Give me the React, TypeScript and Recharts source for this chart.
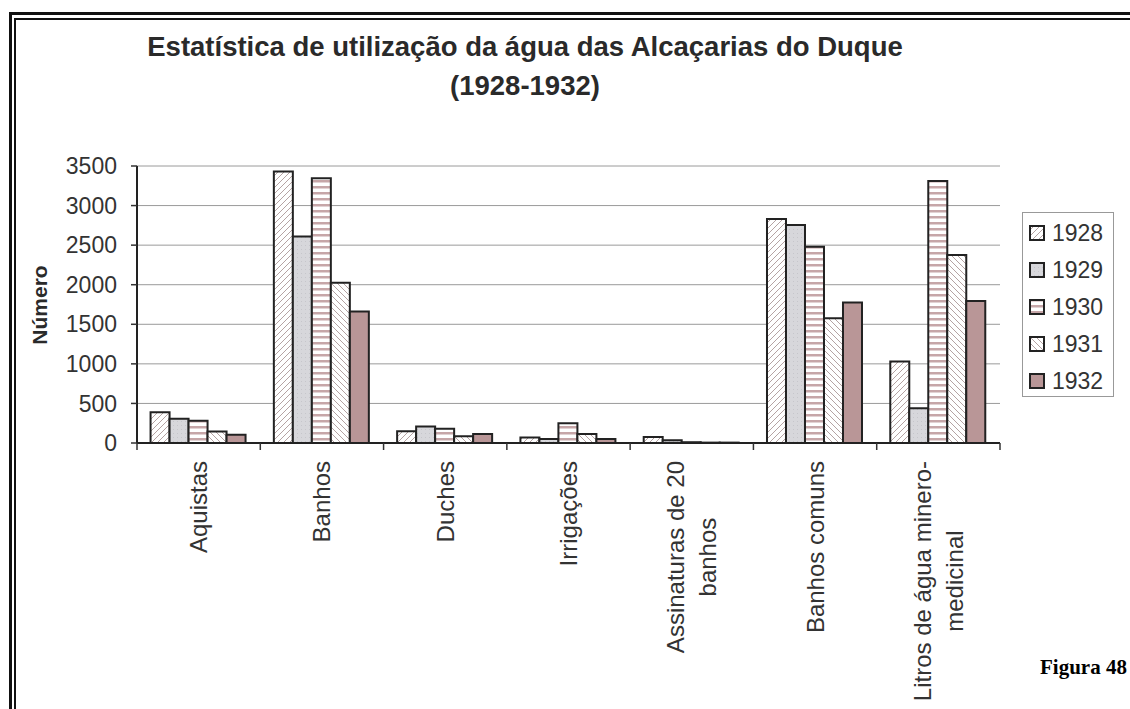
import { Bar, BarChart, CartesianGrid, XAxis, YAxis } from 'recharts'

const categories = [
  'Aquistas',
  'Banhos',
  'Duches',
  'Irrigações',
  'Assinaturas de 20 banhos',
  'Banhos comuns',
  'Litros de água minero-medicinal',
]
const tickLines = [
  ['Aquistas'],
  ['Banhos'],
  ['Duches'],
  ['Irrigações'],
  ['Assinaturas de 20', 'banhos'],
  ['Banhos comuns'],
  ['Litros de água minero-', 'medicinal'],
]
const years = ['1928', '1929', '1930', '1931', '1932']
const v1928 = [390, 3430, 150, 70, 75, 2830, 1030]
const v1929 = [305, 2610, 210, 50, 35, 2755, 440]
const v1930 = [280, 3345, 180, 250, 10, 2480, 3310]
const v1931 = [145, 2025, 85, 115, 5, 1575, 2375]
const v1932 = [105, 1660, 115, 50, 5, 1775, 1795]
const yTicks = [0, 500, 1000, 1500, 2000, 2500, 3000, 3500]

const seriesValues = [v1928, v1929, v1930, v1931, v1932]
const data = categories.map((name, i) => {
  const row: Record<string, string | number> = { name }
  years.forEach((y, s) => (row[y] = seriesValues[s][i]))
  return row
})

const FONT = "'Liberation Sans', Arial, sans-serif"
const fills = ['url(#p1928)', 'url(#p1929)', 'url(#p1930)', 'url(#p1931)', 'url(#p1932)']

let ctx: CanvasRenderingContext2D | null = null
function textWidth(t: string, size: number) {
  if (!ctx) ctx = document.createElement('canvas').getContext('2d')
  if (!ctx) return t.length * size * 0.5
  ctx.font = `${size}px ${FONT}`
  return ctx.measureText(t).width
}

function CategoryTick(props: any) {
  const { x, y, index, width, payload } = props
  const band = (width || 863) / categories.length
  const lines = tickLines[index] || [payload.value]
  const size = 24
  const maxW = Math.max(...lines.map((l: string) => textWidth(l, size)))
  const cy = y + 18 + maxW / 2
  const gap = 32
  return (
    <g>
      <line x1={x - band / 2} x2={x - band / 2} y1={y} y2={y + 7} stroke="#333" strokeWidth={1.5} />
      {index === categories.length - 1 && (
        <line x1={x + band / 2} x2={x + band / 2} y1={y} y2={y + 7} stroke="#333" strokeWidth={1.5} />
      )}
      {lines.map((l: string, i: number) => {
        const lx = x + (i - (lines.length - 1) / 2) * gap
        return (
          <text
            key={i}
            x={lx}
            y={cy}
            transform={`rotate(-90 ${lx} ${cy})`}
            textAnchor="middle"
            dominantBaseline="central"
            fontSize={size}
            fontFamily={FONT}
            fill="#333"
          >
            {l}
          </text>
        )
      })}
    </g>
  )
}

export default function App() {
  return (
    <div style={{ position: 'absolute', left: 0, top: 0, width: 1130, height: 709, background: '#fff', overflow: 'hidden' }}>
      {/* double frame */}
      <div style={{ position: 'absolute', left: 9, top: 12, right: -10, bottom: -10, borderLeft: '3px solid #111', borderTop: '3px solid #111' }} />
      <div style={{ position: 'absolute', left: 14, top: 18, right: -10, bottom: -10, borderLeft: '2px solid #111', borderTop: '2px solid #111' }} />

      <div style={{ position: 'absolute', left: 0, top: 27, width: 1050, textAlign: 'center', fontFamily: FONT, fontWeight: 'bold', fontSize: 27.5, lineHeight: '39px', color: '#2a2a2a' }}>
        Estatística de utilização da água das Alcaçarias do Duque
        <br />
        (1928-1932)
      </div>

      <div style={{ position: 'absolute', left: 40, top: 305, transform: 'translate(-50%, -50%) rotate(-90deg)', fontFamily: FONT, fontWeight: 'bold', fontSize: 21, color: '#2a2a2a', whiteSpace: 'nowrap' }}>
        Número
      </div>

      <div style={{ position: 'absolute', left: 1040, top: 655, fontFamily: "'Liberation Serif', 'Times New Roman', serif", fontWeight: 'bold', fontSize: 21, color: '#000' }}>
        Figura 48
      </div>

      <div style={{ position: 'absolute', left: 0, top: 0 }}>
        <BarChart
          width={1130}
          height={709}
          data={data}
          margin={{ top: 166, right: 130, bottom: 6, left: 57 }}
          barCategoryGap="11%"
          barGap={0}
        >
          <defs>
            <pattern id="p1928" patternUnits="userSpaceOnUse" width="6" height="6">
              <rect width="6" height="6" fill="#fff" />
              <path d="M0,6 L6,0 M-1,1 L1,-1 M5,7 L7,5" stroke="#b5a3a3" strokeWidth="1" />
            </pattern>
            <pattern id="p1929" patternUnits="userSpaceOnUse" width="4" height="4">
              <rect width="4" height="4" fill="#d7d7db" />
              <rect x="1" y="1" width="1" height="1" fill="#c6c6cb" />
            </pattern>
            <pattern id="p1930" patternUnits="userSpaceOnUse" width="6" height="6">
              <rect width="6" height="6" fill="#fff" />
              <rect y="0" width="6" height="2.5" fill="#c6a6a8" />
            </pattern>
            <pattern id="p1931" patternUnits="userSpaceOnUse" width="6" height="6">
              <rect width="6" height="6" fill="#fff" />
              <path d="M0,0 L6,6 M-1,5 L1,7 M5,-1 L7,1" stroke="#b5a3a3" strokeWidth="1" />
            </pattern>
            <pattern id="p1932" patternUnits="userSpaceOnUse" width="4" height="4">
              <rect width="4" height="4" fill="#b99697" />
            </pattern>
          </defs>
          <CartesianGrid vertical={false} stroke="#9a9a9a" strokeWidth={1} />
          <XAxis
            dataKey="name"
            interval={0}
            height={260}
            axisLine={{ stroke: '#222', strokeWidth: 2 }}
            tickLine={false}
            tickSize={0}
            tickMargin={0}
            tick={<CategoryTick />}
          />
          <YAxis
            width={80}
            domain={[0, 3500]}
            ticks={yTicks}
            interval={0}
            axisLine={{ stroke: '#222', strokeWidth: 2 }}
            tickLine={{ stroke: '#333', strokeWidth: 1.5 }}
            tickSize={6}
            tickMargin={14}
            tick={{ fontSize: 23, fill: '#333', fontFamily: FONT }}
          />
          <YAxis
            yAxisId="r"
            orientation="right"
            width={0}
            domain={[0, 3500]}
            axisLine={{ stroke: '#333', strokeWidth: 1.5 }}
            tick={false}
            tickLine={false}
          />
          {years.map((y, i) => (
            <Bar key={y} dataKey={y} fill={fills[i]} stroke="#222" strokeWidth={2} isAnimationActive={false} />
          ))}
        </BarChart>
      </div>

      <div style={{ position: 'absolute', left: 1022, top: 212, width: 90, height: 183, border: '1px solid #999', background: '#fff', fontFamily: FONT, fontSize: 23, color: '#333' }}>
        {years.map((y, i) => (
          <div key={y} style={{ position: 'absolute', left: 6, top: 7 + i * 37, height: 26, display: 'flex', alignItems: 'center' }}>
            <svg width={16} height={16} style={{ marginRight: 7 }}>
              <rect x={1} y={1} width={14} height={14} fill={fills[i]} stroke="#222" strokeWidth={2} />
            </svg>
            <span>{y}</span>
          </div>
        ))}
      </div>
    </div>
  )
}
